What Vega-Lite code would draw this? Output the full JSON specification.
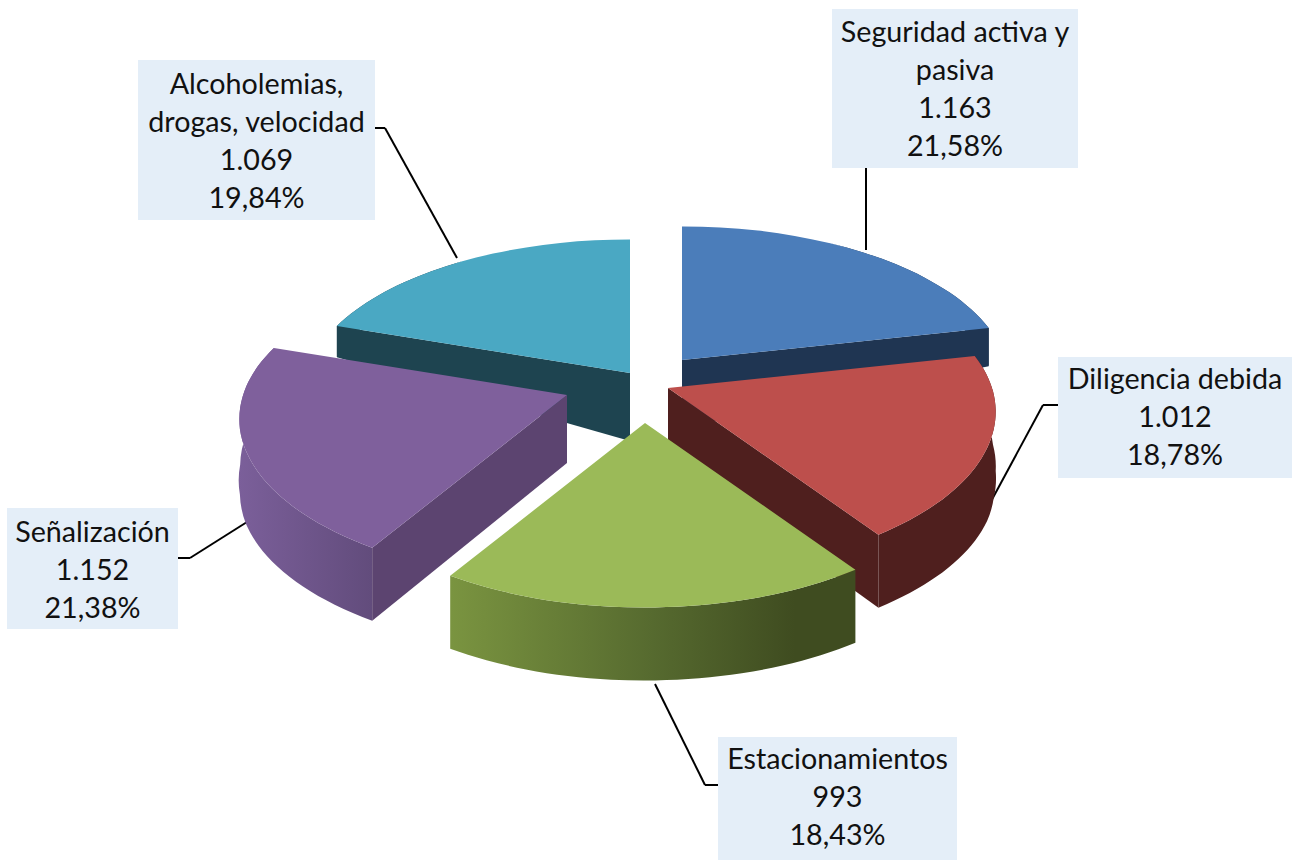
{
"$schema":"https://vega.github.io/schema/vega-lite/v6.json",
"width":1292,"height":860,"padding":0,"autosize":{"type":"none"},"background":"white",
"config":{"view":{"stroke":null}},
"data":{"values":[
{"orden":0,"categoria":"Seguridad activa y pasiva","nombre":"Seguridad activa y\npasiva","valor":1163,"cantidad":"1.163","porcentaje":"21,58%"},
{"orden":1,"categoria":"Diligencia debida","nombre":"Diligencia debida","valor":1012,"cantidad":"1.012","porcentaje":"18,78%"},
{"orden":2,"categoria":"Estacionamientos","nombre":"Estacionamientos","valor":993,"cantidad":"993","porcentaje":"18,43%"},
{"orden":3,"categoria":"Señalización","nombre":"Señalización","valor":1152,"cantidad":"1.152","porcentaje":"21,38%"},
{"orden":4,"categoria":"Alcoholemias, drogas, velocidad","nombre":"Alcoholemias,\ndrogas, velocidad","valor":1069,"cantidad":"1.069","porcentaje":"19,84%"}
]},
"transform":[
{"joinaggregate":[{"op":"sum","field":"valor","as":"total"}]},
{"window":[{"op":"sum","field":"valor","as":"acum"}],"sort":[{"field":"orden","order":"ascending"}]},
{"calculate":"2*PI*datum.acum/datum.total","as":"a1"},
{"calculate":"datum.a1-2*PI*datum.valor/datum.total","as":"a0"},
{"calculate":"datum.a0","as":"t0"},
{"calculate":"datum.a0+(datum.a1-datum.a0)*0.1","as":"t1"},
{"calculate":"datum.a0+(datum.a1-datum.a0)*0.2","as":"t2"},
{"calculate":"datum.a0+(datum.a1-datum.a0)*0.3","as":"t3"},
{"calculate":"datum.a0+(datum.a1-datum.a0)*0.4","as":"t4"},
{"calculate":"datum.a0+(datum.a1-datum.a0)*0.5","as":"t5"},
{"calculate":"datum.a0+(datum.a1-datum.a0)*0.6","as":"t6"},
{"calculate":"datum.a0+(datum.a1-datum.a0)*0.7","as":"t7"},
{"calculate":"datum.a0+(datum.a1-datum.a0)*0.8","as":"t8"},
{"calculate":"datum.a0+(datum.a1-datum.a0)*0.9","as":"t9"},
{"calculate":"datum.a1","as":"t10"},
{"calculate":"round(sin(datum.t0)*3240/(1+0.15*cos(datum.t0)))/10+','+round(-cos(datum.t0)*1550/(1+0.16*cos(datum.t0)))/10","as":"p0"},
{"calculate":"round(sin(datum.t1)*3240/(1+0.15*cos(datum.t1)))/10+','+round(-cos(datum.t1)*1550/(1+0.16*cos(datum.t1)))/10","as":"p1"},
{"calculate":"round(sin(datum.t2)*3240/(1+0.15*cos(datum.t2)))/10+','+round(-cos(datum.t2)*1550/(1+0.16*cos(datum.t2)))/10","as":"p2"},
{"calculate":"round(sin(datum.t3)*3240/(1+0.15*cos(datum.t3)))/10+','+round(-cos(datum.t3)*1550/(1+0.16*cos(datum.t3)))/10","as":"p3"},
{"calculate":"round(sin(datum.t4)*3240/(1+0.15*cos(datum.t4)))/10+','+round(-cos(datum.t4)*1550/(1+0.16*cos(datum.t4)))/10","as":"p4"},
{"calculate":"round(sin(datum.t5)*3240/(1+0.15*cos(datum.t5)))/10+','+round(-cos(datum.t5)*1550/(1+0.16*cos(datum.t5)))/10","as":"p5"},
{"calculate":"round(sin(datum.t6)*3240/(1+0.15*cos(datum.t6)))/10+','+round(-cos(datum.t6)*1550/(1+0.16*cos(datum.t6)))/10","as":"p6"},
{"calculate":"round(sin(datum.t7)*3240/(1+0.15*cos(datum.t7)))/10+','+round(-cos(datum.t7)*1550/(1+0.16*cos(datum.t7)))/10","as":"p7"},
{"calculate":"round(sin(datum.t8)*3240/(1+0.15*cos(datum.t8)))/10+','+round(-cos(datum.t8)*1550/(1+0.16*cos(datum.t8)))/10","as":"p8"},
{"calculate":"round(sin(datum.t9)*3240/(1+0.15*cos(datum.t9)))/10+','+round(-cos(datum.t9)*1550/(1+0.16*cos(datum.t9)))/10","as":"p9"},
{"calculate":"round(sin(datum.t10)*3240/(1+0.15*cos(datum.t10)))/10+','+round(-cos(datum.t10)*1550/(1+0.16*cos(datum.t10)))/10","as":"p10"},
{"calculate":"round(sin(datum.t0)*3240/(1+0.15*cos(datum.t0)))/10+','+round((-cos(datum.t0)*155/(1+0.16*cos(datum.t0))+clamp(52-65*cos(datum.t0),0,73))*10)/10","as":"q0"},
{"calculate":"round(sin(datum.t1)*3240/(1+0.15*cos(datum.t1)))/10+','+round((-cos(datum.t1)*155/(1+0.16*cos(datum.t1))+clamp(52-65*cos(datum.t1),0,73))*10)/10","as":"q1"},
{"calculate":"round(sin(datum.t2)*3240/(1+0.15*cos(datum.t2)))/10+','+round((-cos(datum.t2)*155/(1+0.16*cos(datum.t2))+clamp(52-65*cos(datum.t2),0,73))*10)/10","as":"q2"},
{"calculate":"round(sin(datum.t3)*3240/(1+0.15*cos(datum.t3)))/10+','+round((-cos(datum.t3)*155/(1+0.16*cos(datum.t3))+clamp(52-65*cos(datum.t3),0,73))*10)/10","as":"q3"},
{"calculate":"round(sin(datum.t4)*3240/(1+0.15*cos(datum.t4)))/10+','+round((-cos(datum.t4)*155/(1+0.16*cos(datum.t4))+clamp(52-65*cos(datum.t4),0,73))*10)/10","as":"q4"},
{"calculate":"round(sin(datum.t5)*3240/(1+0.15*cos(datum.t5)))/10+','+round((-cos(datum.t5)*155/(1+0.16*cos(datum.t5))+clamp(52-65*cos(datum.t5),0,73))*10)/10","as":"q5"},
{"calculate":"round(sin(datum.t6)*3240/(1+0.15*cos(datum.t6)))/10+','+round((-cos(datum.t6)*155/(1+0.16*cos(datum.t6))+clamp(52-65*cos(datum.t6),0,73))*10)/10","as":"q6"},
{"calculate":"round(sin(datum.t7)*3240/(1+0.15*cos(datum.t7)))/10+','+round((-cos(datum.t7)*155/(1+0.16*cos(datum.t7))+clamp(52-65*cos(datum.t7),0,73))*10)/10","as":"q7"},
{"calculate":"round(sin(datum.t8)*3240/(1+0.15*cos(datum.t8)))/10+','+round((-cos(datum.t8)*155/(1+0.16*cos(datum.t8))+clamp(52-65*cos(datum.t8),0,73))*10)/10","as":"q8"},
{"calculate":"round(sin(datum.t9)*3240/(1+0.15*cos(datum.t9)))/10+','+round((-cos(datum.t9)*155/(1+0.16*cos(datum.t9))+clamp(52-65*cos(datum.t9),0,73))*10)/10","as":"q9"},
{"calculate":"round(sin(datum.t10)*3240/(1+0.15*cos(datum.t10)))/10+','+round((-cos(datum.t10)*155/(1+0.16*cos(datum.t10))+clamp(52-65*cos(datum.t10),0,73))*10)/10","as":"q10"},
{"calculate":"datum.p0+'A330,165,0,0,1,'+datum.p1+'A330,165,0,0,1,'+datum.p2+'A330,165,0,0,1,'+datum.p3+'A330,165,0,0,1,'+datum.p4+'A330,165,0,0,1,'+datum.p5+'A330,165,0,0,1,'+datum.p6+'A330,165,0,0,1,'+datum.p7+'A330,165,0,0,1,'+datum.p8+'A330,165,0,0,1,'+datum.p9+'A330,165,0,0,1,'+datum.p10","as":"borde"},
{"calculate":"'L'+datum.q10+'A330,165,0,0,0,'+datum.q9+'A330,165,0,0,0,'+datum.q8+'A330,165,0,0,0,'+datum.q7+'A330,165,0,0,0,'+datum.q6+'A330,165,0,0,0,'+datum.q5+'A330,165,0,0,0,'+datum.q4+'A330,165,0,0,0,'+datum.q3+'A330,165,0,0,0,'+datum.q2+'A330,165,0,0,0,'+datum.q1+'A330,165,0,0,0,'+datum.q0","as":"bordeInferior"},
{"calculate":"'M0,0L'+datum.borde+'Z'","as":"caraSuperior"},
{"calculate":"'M'+datum.borde+datum.bordeInferior+'Z'","as":"lateral"},
{"calculate":"'M0,0L'+datum.p0+'L'+datum.q0+'L0,68Z'","as":"radialA"},
{"calculate":"'M0,0L'+datum.p10+'L'+datum.q10+'L0,68Z'","as":"radialB"},
{"calculate":"[32,18,-5,-83,-20][datum.orden]","as":"ax"},
{"calculate":"[-25,3,38,10,-12][datum.orden]","as":"ay"},
{"calculate":"[182,408,68,-643,-512][datum.orden]","as":"bx0"},
{"calculate":"[428,642,307,-472,-275][datum.orden]","as":"bx1"},
{"calculate":"[-376,-28,352,123,-325][datum.orden]","as":"by0"},
{"calculate":"[-217,93,475,244,-165][datum.orden]","as":"by1"},
{"calculate":"[216,332,5,-403,-193][datum.orden]","as":"lx0"},
{"calculate":"[-135,133,299,137,-127][datum.orden]","as":"ly0"},
{"calculate":"[216,393,55,-460,-265][datum.orden]","as":"lx1"},
{"calculate":"[-215,20,400,173,-257][datum.orden]","as":"ly1"},
{"calculate":"[216,408,68,-472,-278][datum.orden]","as":"lx2"},
{"calculate":"[-217,20,400,173,-257][datum.orden]","as":"ly2"},
{"calculate":"(datum.bx0+datum.bx1)/2","as":"tx"},
{"calculate":"[-352,-5,375,148,-300][datum.orden]","as":"ty"},
{"calculate":"datum.nombre+'\\n'+datum.cantidad+'\\n'+datum.porcentaje","as":"etiqueta"}
],
"layer":[
{"mark":{"type":"rule","stroke":"#000000","strokeWidth":2},
 "encoding":{"x":{"field":"lx0","type":"quantitative","scale":{"domain":[-650,642],"range":[0,1292]},"axis":null},"y":{"field":"ly0","type":"quantitative","scale":{"domain":[-385,475],"range":[0,860]},"axis":null},"x2":{"field":"lx1"},"y2":{"field":"ly1"}}},
{"mark":{"type":"rule","stroke":"#000000","strokeWidth":2},
 "encoding":{"x":{"field":"lx1","type":"quantitative","scale":{"domain":[-650,642],"range":[0,1292]},"axis":null},"y":{"field":"ly1","type":"quantitative","scale":{"domain":[-385,475],"range":[0,860]},"axis":null},"x2":{"field":"lx2"},"y2":{"field":"ly2"}}},
{"mark":{"type":"rect","fill":"#e4eef8"},
 "encoding":{"x":{"field":"bx0","type":"quantitative","scale":{"domain":[-650,642],"range":[0,1292]},"axis":null},"y":{"field":"by0","type":"quantitative","scale":{"domain":[-385,475],"range":[0,860]},"axis":null},"x2":{"field":"bx1"},"y2":{"field":"by1"}}},
{"encoding":{
  "x":{"field":"ax","type":"quantitative","scale":{"domain":[-650,642],"range":[0,1292]},"axis":null},
  "y":{"field":"ay","type":"quantitative","scale":{"domain":[-385,475],"range":[0,860]},"axis":null}},
 "layer":[
 {"transform":[{"filter":"datum.orden==4"}],"mark":{"type":"point","filled":true,"size":4,"opacity":1,"fill":"#1e4450"},"encoding":{"shape":{"field":"lateral","type":"nominal","scale":null}}},
 {"transform":[{"filter":"datum.orden==4"}],"mark":{"type":"point","filled":true,"size":4,"opacity":1,"fill":"#1e4450"},"encoding":{"shape":{"field":"radialA","type":"nominal","scale":null}}},
 {"transform":[{"filter":"datum.orden==4"}],"mark":{"type":"point","filled":true,"size":4,"opacity":1,"fill":"#4aa8c3"},"encoding":{"shape":{"field":"caraSuperior","type":"nominal","scale":null}}},
 {"transform":[{"filter":"datum.orden==0"}],"mark":{"type":"point","filled":true,"size":4,"opacity":1,"fill":"#1f3552"},"encoding":{"shape":{"field":"lateral","type":"nominal","scale":null}}},
 {"transform":[{"filter":"datum.orden==0"}],"mark":{"type":"point","filled":true,"size":4,"opacity":1,"fill":"#1f3552"},"encoding":{"shape":{"field":"radialB","type":"nominal","scale":null}}},
 {"transform":[{"filter":"datum.orden==0"}],"mark":{"type":"point","filled":true,"size":4,"opacity":1,"fill":"#4b7dba"},"encoding":{"shape":{"field":"caraSuperior","type":"nominal","scale":null}}},
 {"transform":[{"filter":"datum.orden==1"}],"mark":{"type":"point","filled":true,"size":4,"opacity":1,"fill":"#4f1f1e"},"encoding":{"shape":{"field":"lateral","type":"nominal","scale":null}}},
 {"transform":[{"filter":"datum.orden==1"}],"mark":{"type":"point","filled":true,"size":4,"opacity":1,"fill":"#4f1f1e"},"encoding":{"shape":{"field":"radialB","type":"nominal","scale":null}}},
 {"transform":[{"filter":"datum.orden==1"}],"mark":{"type":"point","filled":true,"size":4,"opacity":1,"fill":"#bd4f4c"},"encoding":{"shape":{"field":"caraSuperior","type":"nominal","scale":null}}},
 {"transform":[{"filter":"datum.orden==3"}],"mark":{"type":"point","filled":true,"size":4,"opacity":1,"fill":{"gradient":"linear","x1":0,"y1":0,"x2":1,"y2":0,"stops":[{"offset":0,"color":"#7b5f9a"},{"offset":1,"color":"#624c7c"}]}},"encoding":{"shape":{"field":"lateral","type":"nominal","scale":null}}},
 {"transform":[{"filter":"datum.orden==3"}],"mark":{"type":"point","filled":true,"size":4,"opacity":1,"fill":"#5c4470"},"encoding":{"shape":{"field":"radialA","type":"nominal","scale":null}}},
 {"transform":[{"filter":"datum.orden==3"}],"mark":{"type":"point","filled":true,"size":4,"opacity":1,"fill":"#7f609c"},"encoding":{"shape":{"field":"caraSuperior","type":"nominal","scale":null}}},
 {"transform":[{"filter":"datum.orden==2"}],"mark":{"type":"point","filled":true,"size":4,"opacity":1,"fill":{"gradient":"linear","x1":0,"y1":0,"x2":1,"y2":0,"stops":[{"offset":0,"color":"#7a9440"},{"offset":0.5,"color":"#566a2f"},{"offset":0.85,"color":"#3f4c20"},{"offset":1,"color":"#3f4c20"}]}},"encoding":{"shape":{"field":"lateral","type":"nominal","scale":null}}},
 {"transform":[{"filter":"datum.orden==2"}],"mark":{"type":"point","filled":true,"size":4,"opacity":1,"fill":"#9bba58"},"encoding":{"shape":{"field":"caraSuperior","type":"nominal","scale":null}}}
 ]},
{"mark":{"type":"text","font":"Lato","fontSize":28.7,"lineHeight":38,"lineBreak":"\n","align":"center","baseline":"middle","fill":"#111111"},
 "encoding":{"x":{"field":"tx","type":"quantitative","scale":{"domain":[-650,642],"range":[0,1292]},"axis":null},"y":{"field":"ty","type":"quantitative","scale":{"domain":[-385,475],"range":[0,860]},"axis":null},"text":{"field":"etiqueta"}}}
]
}
